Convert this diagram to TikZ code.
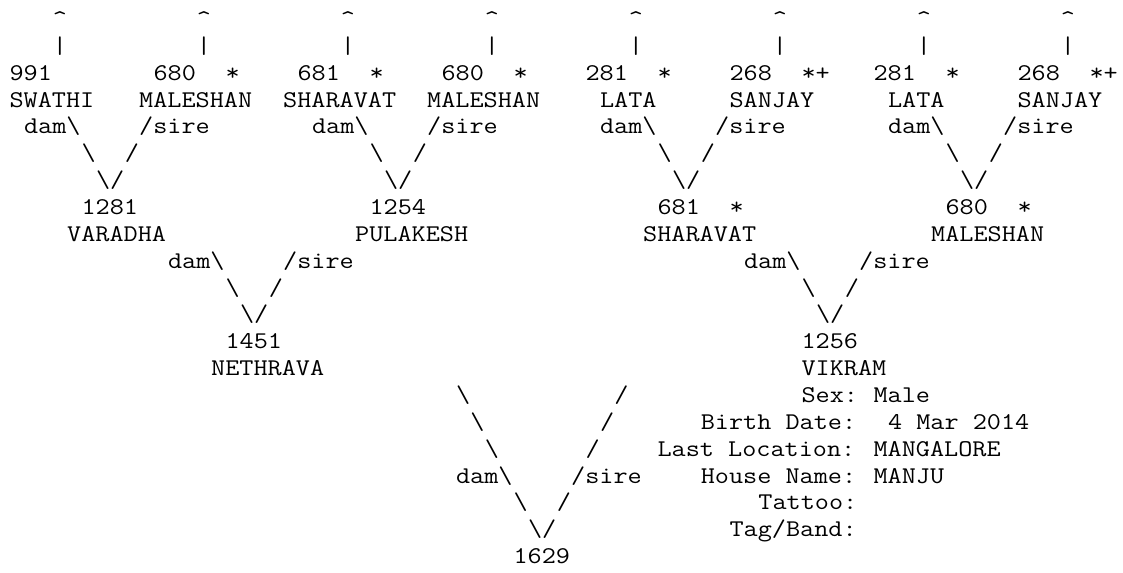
\documentclass[tikz,border=0pt]{standalone}
\usepackage{fontspec}
\newfontfamily\pedmono{Latin Modern Mono}[FakeStretch=1.142857]
\tikzset{txt/.style={anchor=base west,inner sep=0pt,outer sep=0pt,text=black,font=\pedmono\fontsize{18pt}{20pt}\selectfont}}
% place text at character column #2, text row #3
\newcommand{\T}[4]{\node[txt] (#1) at ({7.2pt+(#2)*10.8pt},{-20.1375pt*(#3)+0.2pt}) {#4};}
\newcommand{\bs}{\textbackslash}
\begin{document}
\begin{tikzpicture}
\useasboundingbox (0,0) rectangle (842.25pt,-429.75pt);
% top arrows
\foreach \k in {0,...,7}{
  \T{up\k}{3+10*\k}{1}{\textasciicircum}
  \T{bar\k}{3+10*\k}{2}{\textbar}
}
% generation 4
\T{aN}{0}{3}{991}
\T{bN}{10}{3}{680} \T{bS}{15}{3}{*}
\T{cN}{20}{3}{681} \T{cS}{25}{3}{*}
\T{dN}{30}{3}{680} \T{dS}{35}{3}{*}
\T{eN}{40}{3}{281} \T{eS}{45}{3}{*}
\T{fN}{50}{3}{268} \T{fS}{55}{3}{*+}
\T{gN}{60}{3}{281} \T{gS}{65}{3}{*}
\T{hN}{70}{3}{268} \T{hS}{75}{3}{*+}
\T{aL}{0}{4}{SWATHI}
\T{bL}{9}{4}{MALESHAN}
\T{cL}{19}{4}{SHARAVAT}
\T{dL}{29}{4}{MALESHAN}
\T{eL}{41}{4}{LATA}
\T{fL}{50}{4}{SANJAY}
\T{gL}{61}{4}{LATA}
\T{hL}{70}{4}{SANJAY}
\foreach \k in {0,1,2,3}{
  \T{damA\k}{1+20*\k}{5}{dam\bs}
  \T{sireA\k}{9+20*\k}{5}{/sire}
  \T{lA\k}{5+20*\k}{6}{\bs}
  \T{rA\k}{8+20*\k}{6}{/}
  \T{vA\k}{6+20*\k}{7}{\bs/}
}
% generation 3
\T{pN}{5}{8}{1281}
\T{qN}{25}{8}{1254}
\T{rN}{45}{8}{681} \T{rS}{50}{8}{*}
\T{sN}{65}{8}{680} \T{sS}{70}{8}{*}
\T{pL}{4}{9}{VARADHA}
\T{qL}{24}{9}{PULAKESH}
\T{rL}{44}{9}{SHARAVAT}
\T{sL}{64}{9}{MALESHAN}
\foreach \k in {0,1}{
  \T{damB\k}{11+40*\k}{10}{dam\bs}
  \T{sireB\k}{19+40*\k}{10}{/sire}
  \T{lB\k}{15+40*\k}{11}{\bs}
  \T{rB\k}{18+40*\k}{11}{/}
  \T{vB\k}{16+40*\k}{12}{\bs/}
}
% generation 2
\T{xN}{15}{13}{1451}
\T{yN}{55}{13}{1256}
\T{xL}{14}{14}{NETHRAVA}
\T{yL}{55}{14}{VIKRAM}
% generation 1 connectors
\T{lC1}{31}{15}{\bs} \T{rC1}{42}{15}{/}
\T{lC2}{32}{16}{\bs} \T{rC2}{41}{16}{/}
\T{lC3}{33}{17}{\bs} \T{rC3}{40}{17}{/}
\T{damC}{31}{18}{dam\bs} \T{sireC}{39}{18}{/sire}
\T{lC5}{35}{19}{\bs} \T{rC5}{38}{19}{/}
\T{vC}{36}{20}{\bs/}
\T{root}{35}{21}{1629}
% details of VIKRAM
\T{sexK}{55}{15}{Sex:} \T{sexV}{60}{15}{Male}
\T{bdK}{48}{16}{Birth Date:} \T{bdV}{61}{16}{4 Mar 2014}
\T{locK}{45}{17}{Last Location:} \T{locV}{60}{17}{MANGALORE}
\T{houseK}{48}{18}{House Name:} \T{houseV}{60}{18}{MANJU}
\T{tatK}{52}{19}{Tattoo:}
\T{tagK}{50}{20}{Tag/Band:}
\end{tikzpicture}
\end{document}
